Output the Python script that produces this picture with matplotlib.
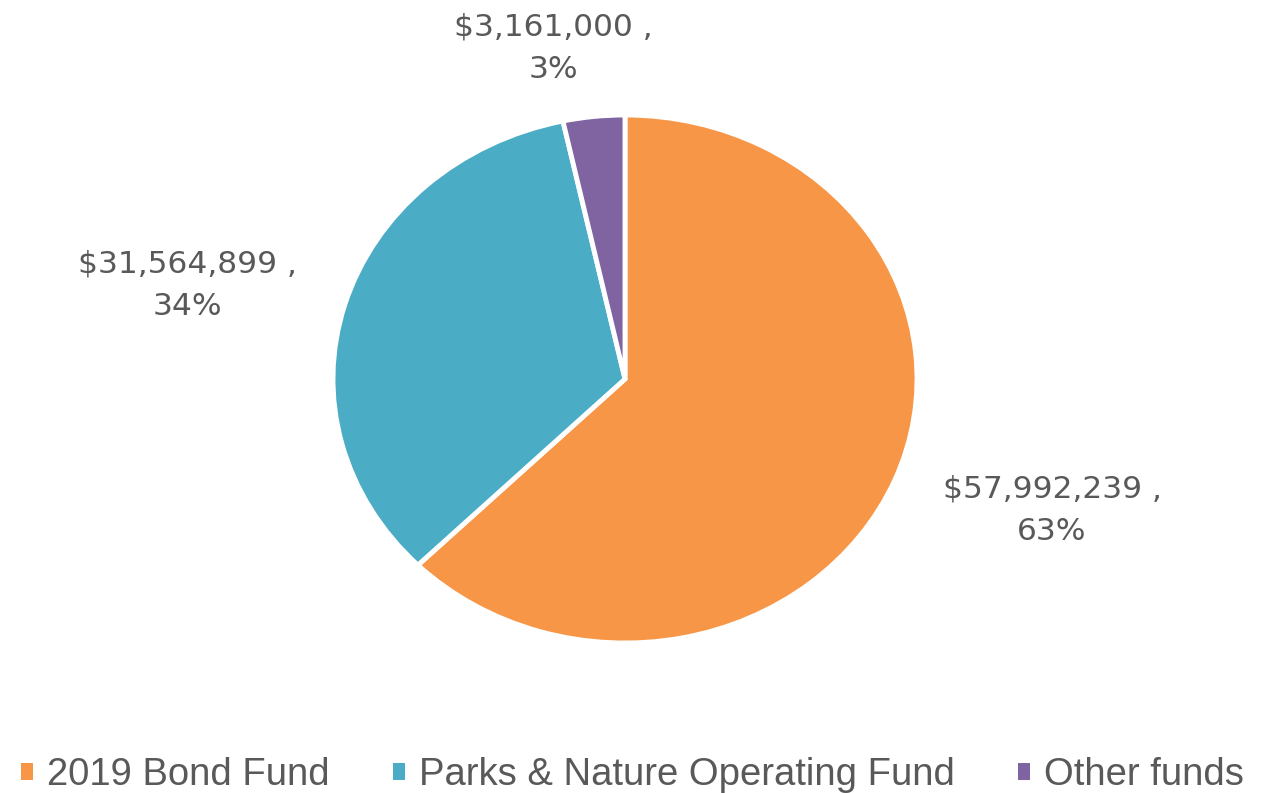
import matplotlib.pyplot as plt
from matplotlib.patches import Patch

funds = ["2019 Bond Fund", "Parks & Nature Operating Fund", "Other funds"]
amounts = [57992239, 31564899, 3161000]
pct_labels = ["63%", "34%", "3%"]
colors = ["#F79646", "#4BACC6", "#8064A2"]

W, H = 1265, 793
fig = plt.figure(figsize=(W / 100, H / 100), dpi=100)

# pie is stretched horizontally in the reference, so aspect is left free
ax = fig.add_axes([333 / W, (H - 643) / H, 584 / W, 528 / H])
wedges, _ = ax.pie(amounts, colors=colors, startangle=90, counterclock=False,
                   wedgeprops=dict(edgecolor="white", linewidth=3.5))
ax.set_xlim(-1.0, 1.0)
ax.set_ylim(-1.0, 1.0)
ax.set_aspect("auto")
ax.axis("off")

label_font = dict(family=["DejaVu Sans"], size=22.5, color="#595959",
                  ha="center", va="center", linespacing=1.6)
label_pos = [(1052, 510), (187, 285), (553, 48)]
for amt, pct, (px, py) in zip(amounts, pct_labels, label_pos):
    fig.text(px / W, 1 - py / H, "${:,} ,\n{}".format(amt, pct), **label_font)

handles = [Patch(facecolor=c, edgecolor="none") for c in colors]
fig.legend(handles, funds, loc="center", bbox_to_anchor=(0.5, 1 - 775 / H),
           ncol=3, frameon=False, handlelength=0.32, handleheight=0.32,
           handletextpad=0.37, columnspacing=1.65,
           prop=dict(family=["Liberation Sans", "DejaVu Sans"], size=27.5),
           labelcolor="#595959")

fig.savefig("out.png", dpi=100)
